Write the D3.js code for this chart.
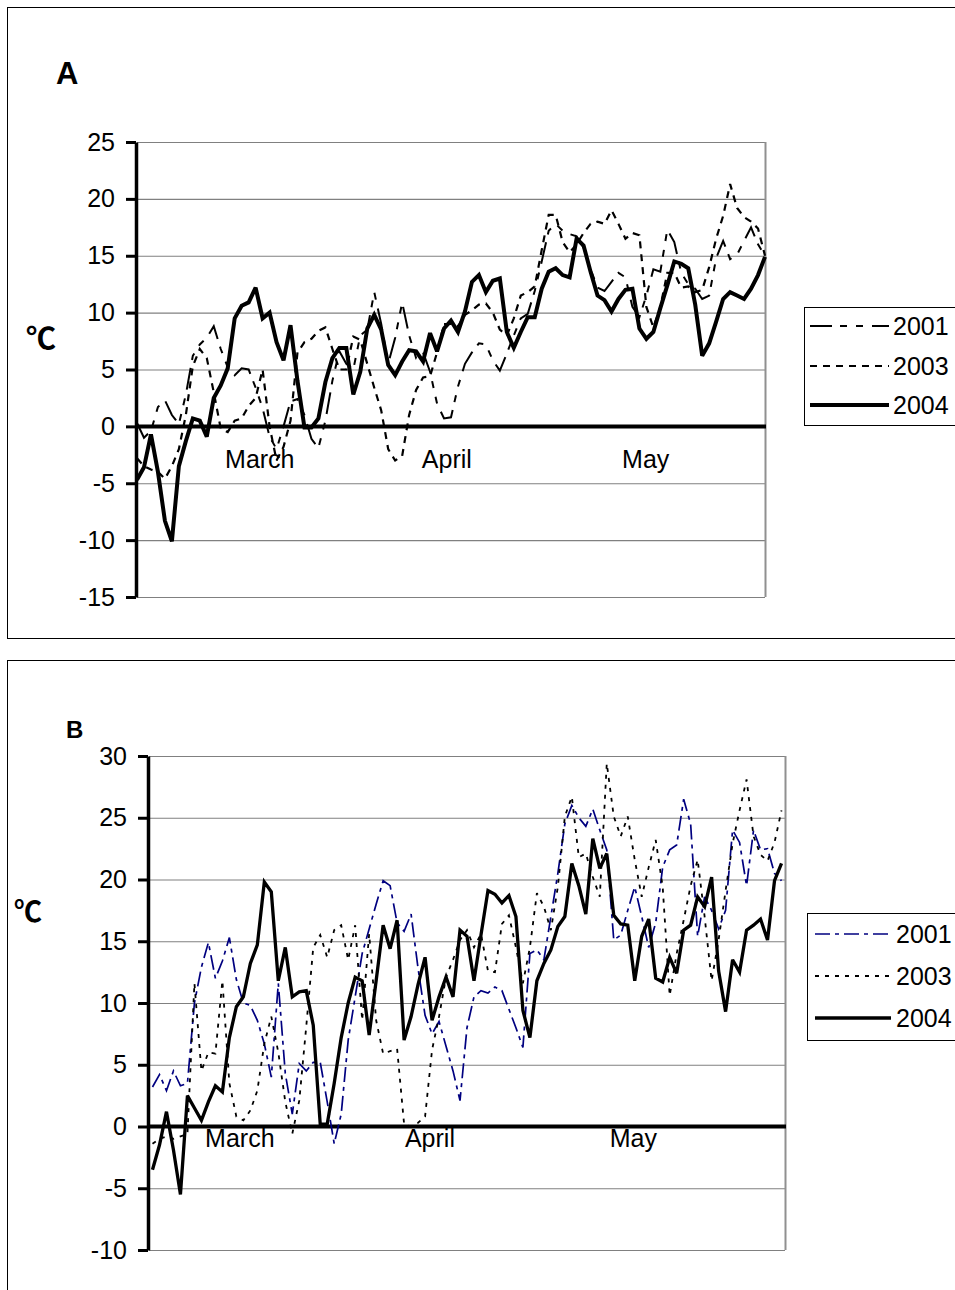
<!DOCTYPE html>
<html><head><meta charset="utf-8">
<script src="https://cdn.jsdelivr.net/npm/d3@7"></script>
<style>
body{margin:0;background:#fff;}
svg{display:block;font-family:"Liberation Sans",Arial,sans-serif;}
</style></head><body>
<svg id="c" width="955" height="1290"></svg>
<script>
// ---------- data ----------
const seriesNames = ["2001", "2003", "2004"];
const monthLabels = ["March", "April", "May"];
const monthAtA = [17.6, 44.4, 72.9];
const monthAtB = [12.5, 39.7, 68.8];
const yTicksA = [-15, -10, -5, 0, 5, 10, 15, 20, 25];
const yTicksB = [-10, -5, 0, 5, 10, 15, 20, 25, 30];

const a2001 = [0.3,-1.0,-0.4,1.7,2.3,1.0,0.2,2.8,6.2,7.2,
7.8,8.8,6.8,5.2,4.5,5.1,5.0,3.4,1.6,-0.9,
-2.0,0.0,2.2,2.4,1.0,-1.1,-1.9,0.5,4.0,6.6,
5.5,5.0,8.0,8.5,11.8,9.0,5.5,7.8,10.9,8.0,
6.0,6.5,4.8,2.0,0.7,0.8,3.5,5.5,6.5,7.3,
7.2,5.8,4.9,6.4,8.0,9.5,9.9,11.9,14.5,17.2,
17.8,17.2,16.9,16.7,15.7,13.8,12.2,11.9,12.7,13.5,
13.1,10.5,9.6,11.5,13.8,13.6,17.3,16.2,13.5,12.5,
12.1,11.2,11.5,14.8,16.3,14.7,15.1,16.3,17.5,16.0,
15.0];
const a2003 = [-2.8,-3.5,-3.8,-4.0,-4.6,-3.5,-2.0,1.0,5.3,6.8,
6.0,3.0,-0.2,-0.5,0.5,0.7,1.8,2.5,5.0,0.0,
-3.0,-1.8,0.5,6.5,7.4,7.7,8.4,8.7,6.8,5.0,
5.0,7.9,7.6,5.5,3.4,1.4,-2.0,-3.0,-2.6,1.0,
3.2,4.3,4.4,6.5,9.0,9.0,8.8,9.8,10.2,10.7,
10.8,10.0,8.5,8.0,9.5,11.5,11.8,12.3,15.5,18.6,
18.6,16.2,15.3,16.0,17.0,17.8,18.0,17.8,19.0,17.8,
16.5,17.0,16.8,10.5,8.7,10.5,13.5,13.5,12.2,12.3,
11.8,12.0,14.0,16.5,18.5,21.3,19.2,18.4,18.0,17.4,
15.0];
const a2004 = [-4.7,-3.6,-0.7,-4.0,-8.3,-10.1,-3.5,-1.3,0.7,0.5,
-0.9,2.5,3.6,5.1,9.5,10.6,10.9,12.2,9.5,10.0,
7.4,5.8,8.9,4.0,-0.1,-0.1,0.7,3.9,6.0,6.9,
6.9,2.8,4.8,8.6,9.8,8.5,5.4,4.5,5.7,6.7,
6.6,5.7,8.2,6.6,8.6,9.3,8.3,10.1,12.7,13.3,
11.8,12.8,13.0,8.3,6.9,8.3,9.6,9.6,12.1,13.6,
13.9,13.3,13.1,16.5,15.9,13.6,11.5,11.1,10.1,11.2,
12.0,12.1,8.6,7.7,8.3,10.4,12.4,14.5,14.3,13.9,
10.7,6.2,7.3,9.2,11.2,11.8,11.5,11.2,12.1,13.3,
14.9];

const b2001 = [3.2,4.2,2.9,4.5,3.3,3.5,10.0,12.9,14.9,12.0,
13.4,15.3,11.9,10.0,9.8,8.6,6.7,4.0,11.6,4.3,
1.0,5.1,4.5,5.2,5.2,2.0,-1.4,1.0,7.0,10.5,
14.0,16.0,18.0,19.9,19.5,16.5,15.8,17.2,12.8,9.0,
7.5,8.5,6.5,4.5,2.1,8.0,10.5,11.0,10.8,11.3,
11.0,9.5,8.0,6.4,14.0,14.3,13.5,17.0,20.5,24.5,
26.0,25.0,24.3,25.7,24.0,22.4,15.1,15.5,17.5,19.4,
17.0,14.5,16.5,21.0,22.4,22.8,26.5,24.5,15.4,18.6,
17.5,16.0,17.5,24.0,23.0,19.5,24.0,22.4,22.5,20.5,
19.9];
const b2003 = [-1.4,-1.0,-0.8,-1.0,-0.8,-0.6,11.6,4.5,6.0,5.9,
11.8,3.5,0.8,0.5,1.3,2.9,6.7,8.9,6.0,2.0,
-0.6,2.1,8.1,14.5,15.5,13.7,15.9,16.3,13.5,16.3,
8.6,15.6,8.6,5.9,6.1,6.3,0.2,0.0,0.3,0.8,
6.2,8.9,12.1,13.5,15.1,15.9,14.5,15.6,12.6,12.5,
16.4,17.1,14.5,11.6,14.5,18.9,17.8,15.9,19.4,25.1,
26.7,21.8,22.1,20.2,18.6,29.4,25.1,23.5,25.1,21.6,
18.6,21.0,23.2,19.4,10.6,14.0,16.7,19.5,21.6,17.0,
11.8,15.1,19.1,22.9,25.6,28.1,23.5,22.0,21.5,23.0,
25.6];
const b2004 = [-3.5,-1.5,1.2,-1.9,-5.5,2.5,1.5,0.5,2.0,3.3,
2.8,7.2,9.7,10.5,13.2,14.7,19.8,19.0,11.8,14.5,
10.5,10.9,11.0,8.2,0.2,0.2,3.5,7.2,10.0,12.1,
11.8,7.4,11.8,16.3,14.4,16.7,7.0,8.9,11.5,13.7,
8.6,10.5,12.1,10.5,15.9,15.4,11.8,15.5,19.1,18.8,
18.1,18.7,17.0,9.4,7.2,11.8,13.2,14.3,16.2,17.0,
21.3,19.5,17.2,23.3,20.9,22.1,17.1,16.4,16.3,11.8,
15.4,16.8,12.0,11.7,13.7,12.4,15.9,16.3,18.6,17.8,
20.2,12.6,9.3,13.5,12.5,15.9,16.3,16.8,15.1,19.9,
21.3];

// ---------- drawing ----------
const svg = d3.select("#c");
const FONT = 25;

function panel(cfg) {
  const g = svg.append("g");
  g.append("rect").attr("x", cfg.frame[0]).attr("y", cfg.frame[1])
    .attr("width", cfg.frame[2]).attr("height", cfg.frame[3])
    .attr("fill", "none").attr("stroke", "#000").attr("stroke-width", 1);

  const n = cfg.series[0].values.length;
  const x = d3.scaleLinear().domain(cfg.xDomain(n)).range([cfg.left, cfg.right]);
  const y = d3.scaleLinear().domain([cfg.yTicks[0], cfg.yTicks[cfg.yTicks.length - 1]])
    .range([cfg.bottom, cfg.top]);

  g.append("g").selectAll("line").data(cfg.yTicks.filter(d => d !== 0)).join("line")
    .attr("x1", cfg.left).attr("x2", cfg.right)
    .attr("y1", d => y(d) + 0.5).attr("y2", d => y(d) + 0.5)
    .attr("stroke", "#808080").attr("stroke-width", 1.2);
  g.append("line").attr("x1", cfg.right + 0.5).attr("x2", cfg.right + 0.5)
    .attr("y1", cfg.top).attr("y2", cfg.bottom)
    .attr("stroke", "#909090").attr("stroke-width", 2);

  g.append("line").attr("x1", cfg.left).attr("x2", cfg.right + 1)
    .attr("y1", y(0)).attr("y2", y(0))
    .attr("stroke", "#000").attr("stroke-width", 4);

  const line = d3.line().x((d, i) => x(i)).y(d => y(d));
  cfg.series.forEach(s => {
    g.append("path").datum(s.values).attr("d", line)
      .attr("fill", "none").attr("stroke", s.color).attr("stroke-width", s.width)
      .attr("stroke-dasharray", s.dash).attr("stroke-linejoin", "miter")
      .attr("stroke-miterlimit", 3);
  });

  const ax = g.append("g").attr("transform", `translate(${cfg.left - 1},0)`)
    .call(d3.axisLeft(y).tickValues(cfg.yTicks).tickSize(cfg.tickLen).tickPadding(cfg.tickPad)
      .tickFormat(d => String(d)).tickSizeOuter(0));
  ax.select(".domain").attr("stroke", "#000").attr("stroke-width", 3.5);
  ax.selectAll(".tick line").attr("stroke", "#000").attr("stroke-width", 3);
  ax.selectAll(".tick text").attr("font-size", FONT).attr("fill", "#000")
    .attr("font-family", "'Liberation Sans',Arial,sans-serif");

  g.append("g").selectAll("text").data(monthLabels).join("text")
    .attr("x", (d, i) => x(cfg.monthAt[i])).attr("y", y(0) + cfg.monthDy)
    .attr("text-anchor", "middle").attr("font-size", FONT).attr("fill", "#000")
    .text(d => d);

  g.append("text").attr("x", cfg.letterPos[0]).attr("y", cfg.letterPos[1])
    .attr("font-size", cfg.letterSize).attr("font-weight", "bold").text(cfg.letter);
  g.append("text").attr("x", cfg.unitPos[0]).attr("y", cfg.unitPos[1])
    .attr("font-size", cfg.unitSize).attr("font-weight", "bold")
    .attr("font-family", "'Noto Sans CJK SC','DejaVu Sans',sans-serif").text("\u2103");

  const L = cfg.legend;
  g.append("rect").attr("x", L.x).attr("y", L.y).attr("width", L.w).attr("height", L.h)
    .attr("fill", "#fff").attr("stroke", "#000").attr("stroke-width", 1);
  cfg.series.forEach((s, i) => {
    const yy = L.rows[i];
    g.append("line").attr("x1", L.lx1).attr("x2", L.lx2).attr("y1", yy).attr("y2", yy)
      .attr("stroke", s.color).attr("stroke-width", s.width).attr("stroke-dasharray", s.dash);
    g.append("text").attr("x", L.tx).attr("y", yy).attr("dy", "0.36em")
      .attr("font-size", FONT).attr("fill", "#000").text(s.name);
  });
}

panel({
  frame: [7.5, 7.5, 960, 631],
  left: 137, right: 765, top: 142, bottom: 597,
  xDomain: n => [0, n - 1],
  yTicks: yTicksA, tickLen: 10, tickPad: 11,
  monthAt: monthAtA, monthDy: 42,
  letter: "A", letterPos: [56, 84], letterSize: 31,
  unitPos: [26, 349], unitSize: 30,
  legend: {x: 804.5, y: 307.5, w: 160, h: 118, rows: [326, 366, 405], lx1: 810, lx2: 889, tx: 893},
  series: [
    {name: seriesNames[0], values: a2001, color: "#000", width: 2, dash: "22,8,7,9,7,9"},
    {name: seriesNames[1], values: a2003, color: "#000", width: 2.2, dash: "7,6"},
    {name: seriesNames[2], values: a2004, color: "#000", width: 4, dash: null}
  ]
});

panel({
  frame: [7.5, 660.5, 960, 640],
  left: 149, right: 785, top: 756, bottom: 1250,
  xDomain: n => [-0.5, n - 0.5],
  yTicks: yTicksB, tickLen: 10, tickPad: 11,
  monthAt: monthAtB, monthDy: 20,
  letter: "B", letterPos: [66, 738], letterSize: 24,
  unitPos: [14, 922], unitSize: 28,
  legend: {x: 807.5, y: 913.5, w: 160, h: 127, rows: [934, 976, 1018], lx1: 815, lx2: 891, tx: 896},
  series: [
    {name: seriesNames[0], values: b2001, color: "#000080", width: 1.7, dash: "15,5,4,5"},
    {name: seriesNames[1], values: b2003, color: "#000", width: 1.8, dash: "4,6"},
    {name: seriesNames[2], values: b2004, color: "#000", width: 3.3, dash: null}
  ]
});
</script>
</body></html>
